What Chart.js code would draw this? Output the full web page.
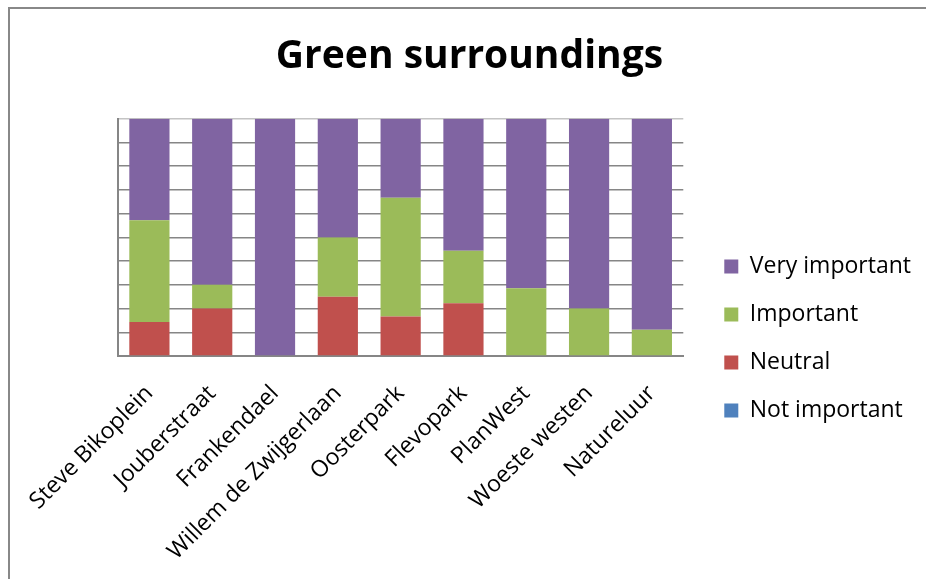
<!DOCTYPE html>
<html>
<head>
<meta charset="utf-8">
<script src="https://cdn.jsdelivr.net/npm/chart.js@4"></script>
<style>
    body { margin: 0; background: #fff; }
    #wrap { position: relative; width: 926px; height: 579px; overflow: hidden; }
    #frame { position: absolute; left: 8px; top: 7px; width: 940px; height: 600px;
             border-left: 2px solid #888; border-top: 2px solid #888; }
    #wrap canvas { position: absolute; left: 0; top: 0; }
</style>
</head>
<body>
<div id="wrap">
    <div id="frame"></div>
    <canvas id="greenChart"></canvas>
</div>
<script>
const places = ['Steve Bikoplein', 'Jouberstraat', 'Frankendael', 'Willem de Zwijgerlaan',
    'Oosterpark', 'Flevopark', 'PlanWest', 'Woeste westen', 'Natureluur'];

// shares in percent per place
const notImportant = [0, 0, 0, 0, 0, 0, 0, 0, 0];
const neutral = [14.3, 20, 0, 25, 16.7, 22.2, 0, 0, 0];
const important = [42.9, 10, 0, 25, 50, 22.2, 28.6, 20, 11.1];
const veryImportant = [42.8, 70, 100, 50, 33.3, 55.6, 71.4, 80, 88.9];

const font = "'Open Sans', 'DejaVu Sans', sans-serif";
const axisGrey = '#868686';

const ctx = document.getElementById('greenChart').getContext('2d');
new Chart(ctx, {
    type: 'bar',
    data: {
        labels: places,
        datasets: [
            { label: 'Not important', data: notImportant, backgroundColor: '#4F81BD' },
            { label: 'Neutral', data: neutral, backgroundColor: '#C0504D' },
            { label: 'Important', data: important, backgroundColor: '#9BBB59' },
            { label: 'Very important', data: veryImportant, backgroundColor: '#8064A2' }
        ]
    },
    options: {
        responsive: true,
        maintainAspectRatio: false,
        animation: false,
        layout: { padding: { left: 18, right: 5, top: 0, bottom: 0 } },
        datasets: {
            bar: { barPercentage: 0.64, categoryPercentage: 1, borderWidth: 0 }
        },
        scales: {
            x: {
                stacked: true,
                grid: { display: false },
                border: { display: true, color: axisGrey, width: 2 },
                afterFit: scale => { scale.height = 223; },
                ticks: {
                    color: '#000',
                    font: { family: font, size: 23 },
                    minRotation: 45,
                    maxRotation: 45,
                    padding: 16,
                    autoSkip: false
                }
            },
            y: {
                stacked: true,
                min: 0,
                max: 100,
                afterFit: scale => { scale.width = 100; },
                ticks: { display: false, stepSize: 10 },
                grid: {
                    drawTicks: false,
                    color: c => c.index === 10 ? '#c4c4c4' : axisGrey,
                    lineWidth: 1.5
                },
                border: { display: true, color: axisGrey, width: 2 }
            },
            // empty gap between plot and legend
            gap: {
                type: 'linear',
                position: 'right',
                afterFit: scale => { scale.width = 16; },
                ticks: { display: false },
                grid: { display: false },
                border: { display: false }
            }
        },
        plugins: {
            title: {
                display: true,
                text: 'Green surroundings',
                color: '#000',
                font: { family: font, size: 39, weight: 'bold' },
                padding: { top: 33, bottom: 39 }
            },
            legend: {
                position: 'right',
                reverse: true,
                align: 'start',
                maxWidth: 260,
                title: { display: true, text: '', font: { size: 10 }, padding: { top: 218, bottom: 0 } },
                labels: {
                    color: '#000',
                    font: { family: font, size: 23 },
                    boxWidth: 14,
                    boxHeight: 14,
                    padding: 25
                }
            },
            tooltip: { enabled: false }
        }
    }
});
</script>
</body>
</html>
